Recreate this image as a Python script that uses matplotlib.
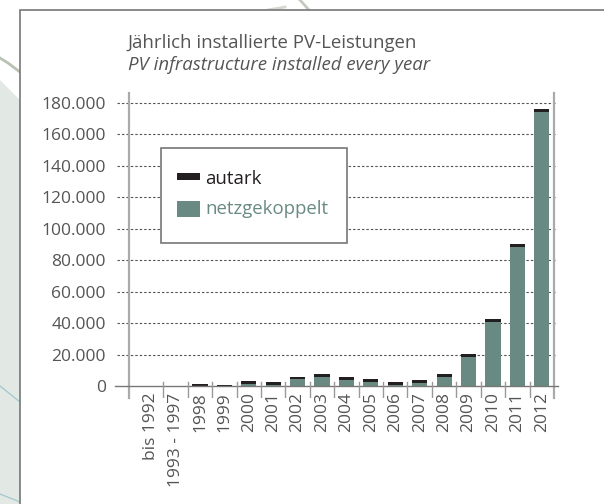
import matplotlib.pyplot as plt
import matplotlib.transforms as mtransforms
from matplotlib.patches import Rectangle, Polygon
from matplotlib.lines import Line2D
from matplotlib.ticker import FuncFormatter

# data
categories = ['bis 1992', '1993 - 1997', '1998', '1999', '2000', '2001', '2002', '2003',
              '2004', '2005', '2006', '2007', '2008', '2009', '2010', '2011', '2012']
netzgekoppelt = [0, 0, 0, 0, 1500, 800, 4200, 6000, 3600, 2400, 800, 1800, 6000,
                 18600, 40800, 88300, 174000]
autark = [0, 0, 1100, 900, 1500, 1700, 1800, 1800, 1800, 1800, 1600, 1800, 1800,
          1700, 1700, 1700, 1700]
yticks = [0, 20000, 40000, 60000, 80000, 100000, 120000, 140000, 160000, 180000]

title_de = 'Jährlich installierte PV-Leistungen'
title_en = 'PV infrastructure installed every year'

green = '#688a82'
black = '#231f20'
textcol = '#555555'

plt.rcParams['font.family'] = ['Open Sans', 'DejaVu Sans']

W, H = 604, 504
fig = plt.figure(figsize=(W / 100, H / 100), dpi=100)


def fx(px):
    return px / W


def fy(py):
    return 1 - py / H


# background decoration outside the white panel
fig.patches.append(Polygon([(0, fy(80)), (fx(20), fy(100)), (fx(20), 0), (0, 0)],
                           closed=True, transform=fig.transFigure, facecolor='#e2e9e5',
                           edgecolor='none', zorder=0))
fig.lines.append(Line2D([0, fx(8), fx(20)], [fy(58), fy(63), fy(72)], transform=fig.transFigure,
                        color='#b9c2b2', lw=2, zorder=1))
fig.lines.append(Line2D([0, fx(20)], [fy(386), fy(402)], transform=fig.transFigure,
                        color='#a9c9d2', lw=1, zorder=1))
fig.lines.append(Line2D([0, fx(20)], [fy(494), fy(502)], transform=fig.transFigure,
                        color='#a9c9d2', lw=1, zorder=1))
fig.lines.append(Line2D([fx(300), fx(309)], [fy(0), fy(10)], transform=fig.transFigure,
                        color='#c2cac0', lw=2, zorder=1))
fig.lines.append(Line2D([fx(268), fx(285)], [fy(10), fy(7)], transform=fig.transFigure,
                        color='#d4dad2', lw=2, zorder=1))

# white panel with grey border
fig.patches.append(Rectangle((fx(20), -0.01), 1.0, fy(10) + 0.01, transform=fig.transFigure,
                             facecolor='white', edgecolor='#777777', lw=1.2, zorder=2))

ax = fig.add_axes([fx(129.3), fy(398), fx(554) - fx(129.3), fy(93) - fy(398)], zorder=3)
ax.patch.set_alpha(0)

x = range(len(categories))
ax.bar(x, netzgekoppelt, width=0.62, color=green, zorder=3)
ax.bar(x, autark, width=0.62, bottom=netzgekoppelt, color=black, zorder=3)

ax.set_xlim(-0.893, 16.5)
ax.set_ylim(-7625, 186160)

# dashed grid lines reaching a bit outside the axes
trans = mtransforms.blended_transform_factory(ax.transAxes, ax.transData)
for v in yticks[1:]:
    ax.plot([-0.029, 1.005], [v, v], transform=trans, color='#555555', lw=0.8,
            ls=(0, (2.2, 1.8)), clip_on=False, zorder=1)
ax.plot([-0.034, 1.01], [0, 0], transform=trans, color='#777777', lw=1.0,
        clip_on=False, zorder=4)

# category separators
for b in range(len(categories) - 1):
    ax.plot([b + 0.5, b + 0.5], [-7625, 2600], color='#999999', lw=1.0, zorder=4)

for s in ['top', 'bottom']:
    ax.spines[s].set_visible(False)
for s in ['left', 'right']:
    ax.spines[s].set_color('#aaaaaa')
    ax.spines[s].set_linewidth(1.6)

ax.set_yticks(yticks)
ax.yaxis.set_major_formatter(FuncFormatter(lambda v, p: f'{int(v):,}'.replace(',', '.')))
ax.tick_params(axis='y', length=0, pad=17, labelsize=12.5, labelcolor=textcol)
ax.set_xticks(list(x))
ax.set_xticklabels(categories, rotation=90)
ax.tick_params(axis='x', length=0, pad=-4, labelsize=12.5, labelcolor=textcol)

# titles
fig.text(fx(128), fy(48), title_de, fontsize=13.4, color=textcol, va='baseline')
fig.text(fx(128), fy(70), title_en, fontsize=13.4, color=textcol, style='italic', va='baseline')

# legend
fig.patches.append(Rectangle((fx(160.7), fy(243.3)), fx(346.7) - fx(160.7), fy(147.7) - fy(243.3),
                             transform=fig.transFigure, facecolor='white', edgecolor='#777777',
                             lw=1.2, zorder=5))
fig.patches.append(Rectangle((fx(177), fy(179.5)), fx(200) - fx(177), fy(173.3) - fy(179.5),
                             transform=fig.transFigure, facecolor=black, edgecolor='none', zorder=6))
fig.patches.append(Rectangle((fx(177), fy(216.7)), fx(200) - fx(177), fy(201) - fy(216.7),
                             transform=fig.transFigure, facecolor=green, edgecolor='none', zorder=6))
fig.text(fx(205), fy(184.5), 'autark', fontsize=13.4, color=black, va='baseline', zorder=7)
fig.text(fx(205), fy(214.5), 'netzgekoppelt', fontsize=13.4, color=green, va='baseline', zorder=7)

fig.savefig('out.png', dpi=100)
